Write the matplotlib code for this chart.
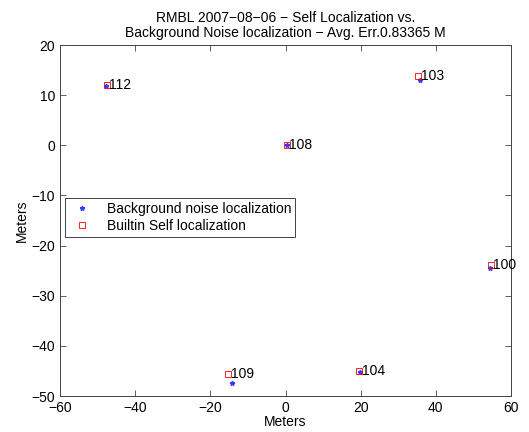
import matplotlib
matplotlib.use('Agg')
import matplotlib.pyplot as plt

plt.rcParams['font.family'] = ['Liberation Sans', 'DejaVu Sans']

# node ids
nodes = ['112', '108', '103', '100', '104', '109']
# background noise localization (blue)
noise_x = [-47.8, 0.5, 35.8, 54.5, 19.8, -14.2]
noise_y = [11.9, 0.0, 13.0, -24.4, -45.3, -47.4]
# builtin self localization (red)
self_x = [-47.6, 0.3, 35.3, 54.6, 19.6, -15.2]
self_y = [12.1, 0.1, 13.8, -23.8, -45.1, -45.6]

titulo = 'RMBL 2007\u221208\u221206 \u2212 Self Localization vs.\nBackground Noise localization \u2212 Avg. Err.0.83365 M'

fig = plt.figure(figsize=(5.29, 4.32), dpi=100)
ax = fig.add_axes([0.1134, 0.0833, 0.8526, 0.8125])

ax.plot(noise_x, noise_y, '*', color='#3b3bff', markersize=3.5, label='Background noise localization')
ax.plot(self_x, self_y, 's', mfc='none', mec='red', markersize=4, markeredgewidth=0.6,
        label='Builtin Self localization')

for n, x, y in zip(nodes, self_x, self_y):
    ax.annotate(n, (x, y), xytext=(2, 0), textcoords='offset points',
                ha='left', va='center', fontsize=10)

ax.set_xlim(-60, 60)
ax.set_ylim(-50, 20)
ax.set_xticks(range(-60, 61, 20))
ax.set_yticks(range(-50, 21, 10))
ax.set_xticklabels([str(t).replace('-', '\u2212') for t in range(-60, 61, 20)])
ax.set_yticklabels([str(t).replace('-', '\u2212') for t in range(-50, 21, 10)])
ax.tick_params(direction='in', top=True, right=True, labelsize=10, length=4, width=0.6, color='#444444')
for s in ax.spines.values():
    s.set_linewidth(0.7)
    s.set_color('#444444')

ax.set_xlabel('Meters', fontsize=10, labelpad=0)
ax.set_ylabel('Meters', fontsize=10, labelpad=2)
ax.set_title(titulo, fontsize=10, pad=6, linespacing=1.1)

leg = ax.legend(loc='upper left', bbox_to_anchor=(0.011, 0.564), borderaxespad=0,
                fancybox=False, framealpha=1, edgecolor='#444444', fontsize=10,
                handlelength=1.9, handletextpad=0.8, borderpad=0.3, labelspacing=0.2)
leg.get_frame().set_linewidth(0.7)

fig.savefig('out.png', dpi=100)
